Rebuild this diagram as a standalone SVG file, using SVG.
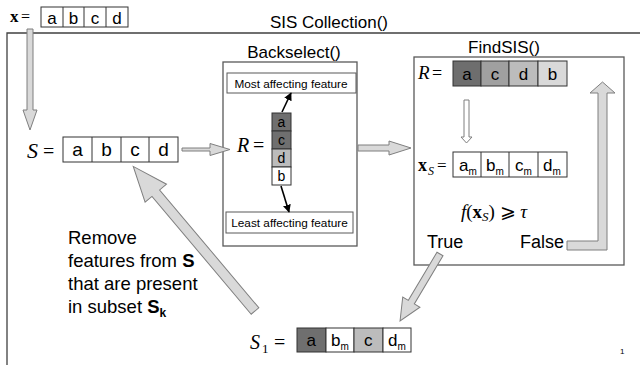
<svg xmlns="http://www.w3.org/2000/svg" width="640" height="365" viewBox="0 0 640 365">
  <defs>
    <style>
      .sans { font-family: "Liberation Sans", Arial, sans-serif; fill: #000; }
      .math { font-family: "Liberation Serif", "DejaVu Serif", serif; fill: #000; }
      .cell { stroke: #333; stroke-width: 1; }
      .frame { fill: #fff; stroke: #595959; stroke-width: 1.3; }
      .label { fill: #fff; stroke: #595959; stroke-width: 1; }
      .block { fill: #d9d9d9; stroke: #7f7f7f; stroke-width: 1; }
      .hollow { fill: #fff; stroke: #7f7f7f; stroke-width: 1; }
      .ptr { stroke: #000; stroke-width: 1.6; fill: none; marker-end: url(#head); }
      .c { text-anchor: middle; }
    </style>
    <marker id="head" viewBox="0 0 10 10" refX="9" refY="5" markerWidth="5" markerHeight="5" orient="auto">
      <path d="M0,0 L10,5 L0,10 z" fill="#000"/>
    </marker>
  </defs>

  <rect width="640" height="365" fill="#fff"/>

  <!-- outer collection frame: top and left edges only -->
  <g id="collection">
    <path d="M7,365 V33 H640" fill="none" stroke="#404040" stroke-width="1.3"/>
    <text class="sans c" x="329" y="28" font-size="17">SIS Collection()</text>
  </g>

  <!-- input vector x -->
  <g id="input-x">
    <text class="math" x="10" y="22" font-size="17" font-weight="bold">x</text>
    <text class="math" x="21" y="22" font-size="16" fill="#555">=</text>
    <rect class="cell" x="41" y="7" width="87" height="20" fill="#fff"/>
    <path class="cell" d="M63,7 V27 M84,7 V27 M106,7 V27"/>
    <g class="sans c" font-size="17">
      <text x="52" y="24">a</text><text x="73.5" y="24">b</text><text x="95" y="24">c</text><text x="117" y="24">d</text>
    </g>
  </g>

  <!-- working set S -->
  <g id="set-s">
    <text class="math" x="27" y="158" font-size="22" font-style="italic">S</text>
    <text class="math" x="43" y="158" font-size="20">=</text>
    <rect class="cell" x="63" y="137" width="115" height="25" fill="#fff"/>
    <path class="cell" d="M92,137 V162 M121,137 V162 M149,137 V162"/>
    <g class="sans c" font-size="19">
      <text x="77.5" y="156">a</text><text x="106.5" y="156">b</text><text x="135" y="156">c</text><text x="163.5" y="156">d</text>
    </g>
  </g>

  <!-- Backselect stage -->
  <g id="backselect">
    <text class="sans c" x="294" y="58" font-size="17">Backselect()</text>
    <rect class="frame" x="223" y="62" width="134" height="184"/>
    <rect class="label" x="227" y="73" width="129" height="20"/>
    <text class="sans c" x="291" y="87.5" font-size="11.8">Most affecting feature</text>
    <rect class="label" x="226" y="212" width="127" height="21"/>
    <text class="sans c" x="289.5" y="227" font-size="11.8">Least affecting feature</text>
    <text class="math" x="237" y="152" font-size="20" font-style="italic">R</text>
    <text class="math" x="253" y="152" font-size="20">=</text>
    <rect class="cell" x="272" y="113" width="19" height="18" fill="#6f6f6f"/>
    <rect class="cell" x="272" y="131" width="19" height="18" fill="#6f6f6f"/>
    <rect class="cell" x="272" y="149" width="19" height="18" fill="#bcbcbc"/>
    <rect class="cell" x="272" y="167" width="19" height="18" fill="#fff"/>
    <g class="sans c" font-size="14">
      <text x="281.5" y="127">a</text><text x="281.5" y="145">c</text><text x="281.5" y="163">d</text><text x="281.5" y="181">b</text>
    </g>
    <path class="ptr" d="M282,112 L291,93"/>
    <path class="ptr" d="M281,186 L289,212"/>
  </g>

  <!-- FindSIS stage -->
  <g id="findsis">
    <text class="sans c" x="504" y="53" font-size="17">FindSIS()</text>
    <rect class="frame" x="414" y="57" width="210" height="208"/>
    <text class="math" x="418" y="79" font-size="19" font-style="italic">R</text>
    <text class="math" x="432" y="79" font-size="18">=</text>
    <rect class="cell" x="453" y="61" width="28" height="25" fill="#6e6e6e"/>
    <rect class="cell" x="481" y="61" width="28" height="25" fill="#a0a0a0"/>
    <rect class="cell" x="509" y="61" width="29" height="25" fill="#bcbcbc"/>
    <rect class="cell" x="538" y="61" width="29" height="25" fill="#d9d9d9"/>
    <g class="sans c" font-size="17">
      <text x="467" y="80">a</text><text x="495" y="80">c</text><text x="523.5" y="80">d</text><text x="552.5" y="80">b</text>
    </g>
    <path class="hollow" d="M464,100 H469 V137 H472 L466.5,143 L461,137 H464 Z"/>
    <text class="math" x="418" y="171" font-size="18" font-weight="bold">x</text>
    <text class="math" x="428" y="175" font-size="12" font-style="italic">S</text>
    <text class="math" x="437" y="171" font-size="17">=</text>
    <rect class="cell" x="453" y="152" width="114" height="25" fill="#fff"/>
    <path class="cell" d="M481,152 V177 M509,152 V177 M538,152 V177"/>
    <g class="sans" font-size="17">
      <text x="459" y="171">a<tspan font-size="10" dy="4">m</tspan></text>
      <text x="486" y="171">b<tspan font-size="10" dy="4">m</tspan></text>
      <text x="515" y="171">c<tspan font-size="10" dy="4">m</tspan></text>
      <text x="543" y="171">d<tspan font-size="10" dy="4">m</tspan></text>
    </g>
    <text class="math" x="494" y="218" font-size="19" text-anchor="middle"><tspan font-style="italic">f</tspan>(<tspan font-weight="bold">x</tspan><tspan font-style="italic" font-size="13" dy="3">S</tspan><tspan dy="-3">) ⩾ </tspan><tspan font-style="italic">τ</tspan></text>
    <text class="sans" x="427" y="248" font-size="18">True</text>
    <text class="sans" x="564" y="248" font-size="18" text-anchor="end">False</text>
    <path class="block" d="M567,241 H598 V93 H590 L602.5,82 L615,93 H607 V250 H567 Z"/>
  </g>

  <!-- found subset S1 -->
  <g id="subset-s1">
    <text class="math" x="250" y="349" font-size="20" font-style="italic">S</text>
    <text class="math" x="262" y="353" font-size="13">1</text>
    <text class="math" x="274" y="349" font-size="20">=</text>
    <rect class="cell" x="297" y="328" width="29" height="24" fill="#6f6f6f"/>
    <rect class="cell" x="326" y="328" width="28" height="24" fill="#fff"/>
    <rect class="cell" x="354" y="328" width="29" height="24" fill="#bcbcbc"/>
    <rect class="cell" x="383" y="328" width="28" height="24" fill="#fff"/>
    <g class="sans" font-size="17">
      <text x="306.5" y="346">a</text>
      <text x="331" y="346">b<tspan font-size="10" dy="4">m</tspan></text>
      <text x="364" y="346">c</text>
      <text x="388" y="346">d<tspan font-size="10" dy="4">m</tspan></text>
    </g>
  </g>

  <!-- explanatory note -->
  <g id="note" class="sans" font-size="18.5">
    <text x="68" y="244">Remove</text>
    <text x="68" y="267">features from <tspan font-weight="bold">S</tspan></text>
    <text x="68" y="290">that are present</text>
    <text x="68" y="313">in subset <tspan font-weight="bold">S</tspan><tspan font-weight="bold" font-size="12" dy="4">k</tspan></text>
  </g>

  <!-- connectors -->
  <g id="connectors">
    <path class="block" d="M27,29 H33 V110 H37 L30,130 L23,110 H27 Z"/>
    <path class="block" d="M182,148 H210 V143.5 L230,149.5 L210,155.5 V151 H182 Z"/>
    <path class="block" d="M358,145 H389 V141 L411,148 L389,155 V151 H358 Z"/>
    <!-- True: FindSIS to S1 -->
    <path class="block" transform="translate(440,254) rotate(120.8)" d="M0,-3.5 H56 V-10 L78,0 L56,10 V3.5 H0 Z"/>
    <!-- S1 back to S -->
    <path class="block" transform="translate(255,311) rotate(229.9)" d="M0,-5 H154 V-14 L189,0 L154,14 V5 H0 Z"/>
  </g>

  <text class="sans" x="620" y="354" font-size="8" fill="#999">1</text>
</svg>
